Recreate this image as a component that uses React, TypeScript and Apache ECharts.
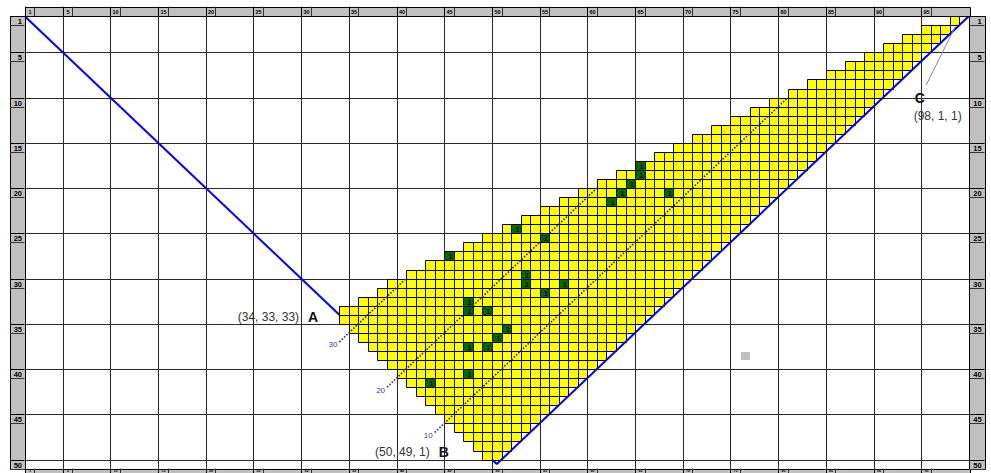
import React, { useEffect, useRef } from "react";
import * as echarts from "echarts";

// ---------- data ----------
const nCols = 99;
const nRows = 50;
const colTicks = [1, 5, 10, 15, 20, 25, 30, 35, 40, 45, 50, 55, 60, 65, 70, 75, 80, 85, 90, 95];
const rowTicks = [1, 5, 10, 15, 20, 25, 30, 35, 40, 45, 50];

// first and last filled column of each row (rows 1..49)
const rowStart = [98, 95, 93, 91, 89, 87, 85, 83, 81, 79, 77, 75, 73, 71, 69, 67, 65, 63, 61, 59,
  57, 55, 53, 51, 49, 47, 45, 43, 41, 39, 38, 36, 34, 34, 35, 36, 37, 38, 39, 40,
  41, 42, 43, 44, 45, 46, 47, 48, 49];
const rowEnd = [98, 97, 96, 95, 94, 93, 92, 91, 90, 89, 88, 87, 86, 85, 84, 83, 82, 81, 80, 79,
  78, 77, 76, 75, 74, 73, 72, 71, 70, 69, 68, 67, 66, 65, 64, 63, 62, 61, 60, 59,
  58, 57, 56, 55, 54, 53, 52, 51, 50];

// marked (green) cells
const greenCols = [45, 52, 55, 62, 63, 64, 65, 65, 68, 53, 53, 57, 55, 47, 47, 49, 51, 50, 47, 49, 47, 43];
const greenRows = [27, 24, 25, 21, 20, 19, 18, 17, 20, 29, 30, 30, 31, 32, 33, 33, 35, 36, 37, 37, 40, 41];
const greenText = "1";

// grey cell
const grayCols = [76];
const grayRows = [38];

// labelled points (x, y, z) with x + y + z = 100
const pointNames = ["A", "B", "C"];
const pointTriples = [
  [34, 33, 33],
  [50, 49, 1],
  [98, 1, 1],
];

// blue boundary lines
const edgeA = [
  [0.5, 0.5],
  [33.5, 33.5],
];
const edgeZ1 = [
  [49.5, 49.5],
  [50, 50],
  [99.5, 0.5],
];

// dotted level lines (x + y = total - z)
const total = 100;
const levelZ = [30, 20, 10];
const levelFromX = [33.5, 38.5, 43.5];
const levelToX = [40.5, 60.5, 80.5];

// ---------- styles ----------
const FONT = "'Liberation Sans', Arial, Helvetica, sans-serif";
const YELLOW = "#ffff00";
const GREEN = "#006a00";
const GRAY = "#c0c0c0";
const BLUE = "#0000ff";
const DOT = "#2626a8";

const crisp = (v: number) => Math.round(v) + 0.5;

export default function App() {
  const ref = useRef<HTMLDivElement>(null);

  useEffect(() => {
    if (!ref.current) return;
    const chart = echarts.init(ref.current, null, { renderer: "svg" });

    const greenKey = new Set(greenCols.map((c, i) => c + ":" + greenRows[i]));
    const cellData: number[][] = [];
    rowStart.forEach((s, i) => {
      const r = i + 1;
      for (let c = s; c <= rowEnd[i]; c++) {
        cellData.push([c, r, greenKey.has(c + ":" + r) ? 1 : 0]);
      }
    });
    grayCols.forEach((c, i) => cellData.push([c, grayRows[i], 2]));

    const renderGrid = (_p: any, api: any) => {
      const [L, T] = api.coord([0.5, 0.5]);
      const [R, B] = api.coord([nCols + 0.5, nRows + 0.5]);
      const children: any[] = [];
      colTicks.map((c) => c - 0.5).concat([nCols + 0.5]).forEach((v) => {
        const x = crisp(api.coord([v, 1])[0]);
        children.push({ type: "line", shape: { x1: x, y1: T, x2: x, y2: B }, style: { stroke: "#2a2a2a", lineWidth: 1 } });
      });
      rowTicks.map((r) => r - 0.5).concat([nRows + 0.5]).forEach((v) => {
        const y = crisp(api.coord([1, v])[1]);
        children.push({ type: "line", shape: { x1: L, y1: y, x2: R, y2: y }, style: { stroke: "#2a2a2a", lineWidth: 1 } });
      });
      return { type: "group", children };
    };

    const renderCell = (_p: any, api: any) => {
      const c = api.value(0);
      const r = api.value(1);
      const k = api.value(2);
      const p0 = api.coord([c - 0.5, r - 0.5]);
      const p1 = api.coord([c + 0.5, r + 0.5]);
      const x0 = Math.round(p0[0]);
      const x1 = Math.round(p1[0]);
      const y0 = Math.round(p0[1]);
      const y1 = Math.round(p1[1]);
      if (k === 2) {
        return { type: "rect", shape: { x: x0 + 1, y: y0 + 1, width: x1 - x0 - 1, height: y1 - y0 - 1 }, style: { fill: GRAY } };
      }
      const rect = {
        type: "rect",
        shape: { x: x0 + 0.5, y: y0 + 0.5, width: x1 - x0, height: y1 - y0 },
        style: { fill: k === 1 ? GREEN : YELLOW, stroke: "#000", lineWidth: 1 },
      };
      if (k !== 1) return rect;
      return {
        type: "group",
        children: [
          rect,
          {
            type: "text",
            x: (x0 + x1) / 2 + 1.5,
            y: (y0 + y1) / 2 + 1,
            style: { text: greenText, fill: "#000", fontSize: 7, fontFamily: FONT, fontWeight: "bold", align: "center", verticalAlign: "middle" },
          },
        ],
      };
    };

    const renderLevelLabels = (_p: any, api: any) => {
      const children: any[] = levelZ.map((z, i) => {
        const p = api.coord([levelFromX[i], total - z - levelFromX[i]]);
        return {
          type: "text",
          x: p[0] - 2,
          y: p[1] + 3,
          style: { text: String(z), fill: "#3a3ab4", fontSize: 8, fontFamily: FONT, align: "right", verticalAlign: "middle" },
        };
      });
      return { type: "group", children };
    };

    const renderAnnot = (_p: any, api: any) => {
      const i = api.value(2);
      const p = api.coord([api.value(0), api.value(1)]);
      const t = pointTriples[i];
      const triple = "(" + t.join(", ") + ")";
      const nameStyle = { text: pointNames[i], fill: "#111", fontSize: 14, fontFamily: FONT, fontWeight: "bold", align: "center", verticalAlign: "middle" };
      const tripStyle = { text: triple, fill: "#333", fontSize: 12, fontFamily: FONT, verticalAlign: "middle" };
      if (i === 0) {
        return {
          type: "group",
          children: [
            { type: "text", x: p[0] - 31, y: p[1] + 7, style: nameStyle },
            { type: "text", x: p[0] - 45, y: p[1] + 7, style: { ...tripStyle, align: "right" } },
          ],
        };
      }
      if (i === 1) {
        return {
          type: "group",
          children: [
            { type: "text", x: p[0] - 53, y: p[1] - 3, style: nameStyle },
            { type: "text", x: p[0] - 67, y: p[1] - 3, style: { ...tripStyle, align: "right" } },
          ],
        };
      }
      return {
        type: "group",
        children: [
          { type: "line", shape: { x1: p[0] + 0.5, y1: p[1] + 6, x2: p[0] - 28.5, y2: p[1] + 64.5 }, style: { stroke: "#8a8a8a", lineWidth: 1 } },
          { type: "text", x: p[0] - 35, y: p[1] + 77, style: nameStyle },
          { type: "text", x: p[0] - 17, y: p[1] + 95, style: { ...tripStyle, align: "center" } },
        ],
      };
    };

    const renderRulers = (_p: any, api: any) => {
      const [L, T] = api.coord([0.5, 0.5]);
      const [R, B] = api.coord([nCols + 0.5, nRows + 0.5]);
      const bandH = 9.4;
      const leftW = 14.5;
      const rightW = 15.6;
      const children: any[] = [];
      const band = (x: number, y: number, w: number, h: number) =>
        children.push({ type: "rect", shape: { x: crisp(x), y: crisp(y), width: Math.round(w), height: Math.round(h) }, style: { fill: GRAY, stroke: "#000", lineWidth: 1 } });
      const ln = (x1: number, y1: number, x2: number, y2: number, c: string) =>
        children.push({ type: "line", shape: { x1, y1, x2, y2 }, style: { stroke: c, lineWidth: 1 } });

      band(L, T - bandH, R - L, bandH);
      band(L, B, R - L, bandH);
      band(L - leftW, T, leftW, B - T);
      band(R, T, rightW, B - T);

      colTicks.forEach((c) => {
        const xl = crisp(api.coord([c - 0.5, 1])[0]);
        const xr = crisp(api.coord([c + 0.5, 1])[0]);
        // top ruler
        const y0 = T - bandH;
        ln(xl, y0, xl, y0 + bandH, "#000");
        ln(xr, y0, xr, y0 + bandH, "#333");
        children.push({
          type: "text",
          x: (xl + xr) / 2,
          y: y0 + bandH / 2 + 0.5,
          style: { text: String(c), fill: "#000", fontSize: 5.5, fontFamily: FONT, fontWeight: "bold", align: "center", verticalAlign: "middle" },
        });
        // bottom ruler (only its upper part lies inside the page)
        ln(xl, B, xl, B + bandH, "#000");
        ln(xr, B, xr, B + bandH, "#333");
        children.push({
          type: "text",
          x: (xl + xr) / 2,
          y: B + 2.2,
          style: { text: String(c), fill: "#000", fontSize: 3.6, fontFamily: FONT, fontWeight: "bold", align: "center", verticalAlign: "middle" },
        });
      });
      rowTicks.forEach((r) => {
        const yt = crisp(api.coord([1, r - 0.5])[1]);
        const yb = crisp(api.coord([1, r + 0.5])[1]);
        ln(L - leftW, yt, L, yt, "#000");
        ln(L - leftW, yb, L, yb, "#333");
        ln(R, yt, R + rightW, yt, "#000");
        ln(R, yb, R + rightW, yb, "#333");
        children.push({
          type: "text",
          x: L - 2.5,
          y: (yt + yb) / 2 + 0.5,
          style: { text: String(r), fill: "#000", fontSize: 7.5, fontFamily: FONT, fontWeight: "bold", align: "right", verticalAlign: "middle" },
        });
        children.push({
          type: "text",
          x: R + rightW - 3,
          y: (yt + yb) / 2 + 0.5,
          style: { text: String(r), fill: "#000", fontSize: 7.5, fontFamily: FONT, fontWeight: "bold", align: "right", verticalAlign: "middle" },
        });
      });
      return { type: "group", children };
    };

    const levelSeries = levelZ.map((z, i) => ({
      type: "line",
      name: "z = " + z,
      data: [
        [levelFromX[i], total - z - levelFromX[i]],
        [levelToX[i], total - z - levelToX[i]],
      ],
      symbol: "none",
      z: 4,
      silent: true,
      lineStyle: { color: DOT, width: 1.6, type: [1.6, 1.6] },
    }));

    chart.setOption({
      animation: false,
      grid: { left: 24.5, top: 16.1, width: 944.5, height: 452.5, show: false },
      xAxis: { type: "value", min: 0.5, max: nCols + 0.5, show: false },
      yAxis: { type: "value", min: 0.5, max: nRows + 0.5, inverse: true, show: false },
      series: [
        { type: "custom", name: "grid", data: [[1, 1]], renderItem: renderGrid, z: 1, silent: true, clip: false },
        { type: "custom", name: "cells", data: cellData, renderItem: renderCell, z: 2, silent: true },
        { type: "line", name: "x = y", data: edgeA, symbol: "none", z: 3, silent: true, lineStyle: { color: BLUE, width: 2 } },
        { type: "line", name: "z = 1", data: edgeZ1, symbol: "none", z: 3, silent: true, lineStyle: { color: BLUE, width: 2 } },
        ...levelSeries,
        { type: "custom", name: "levels", data: [[1, 1]], renderItem: renderLevelLabels, z: 5, silent: true, clip: false },
        {
          type: "custom",
          name: "points",
          data: pointTriples.map((t, i) => [t[0], t[1], i]),
          renderItem: renderAnnot,
          z: 6,
          silent: true,
          clip: false,
        },
        { type: "custom", name: "rulers", data: [[1, 1]], renderItem: renderRulers, z: 10, silent: true, clip: false },
      ],
    });

    return () => chart.dispose();
  }, []);

  return (
    <div
      ref={ref}
      style={{ position: "fixed", left: 0, top: 0, width: 991, height: 473, background: "#fff" }}
    />
  );
}
